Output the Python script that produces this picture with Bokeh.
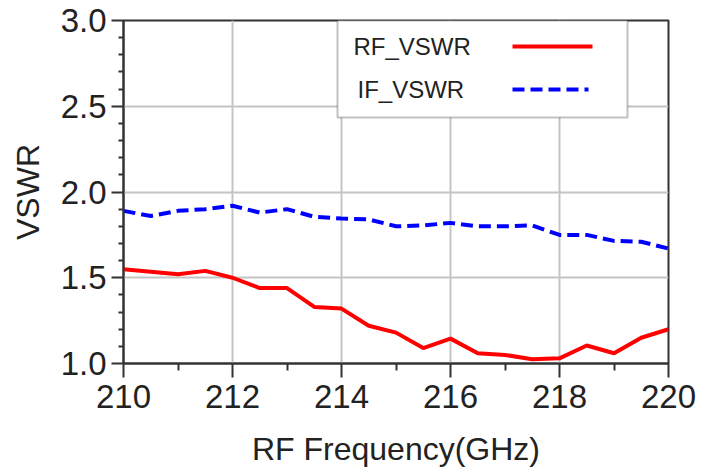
from bokeh.plotting import figure
from bokeh.models import (FixedTicker, PrintfTickFormatter, BoxAnnotation, Label,
                          Arrow, Range1d)
from bokeh.embed import file_html
from bokeh.resources import INLINE

# ---- data -------------------------------------------------------------
freq = [210.0, 210.5, 211.0, 211.5, 212.0, 212.5, 213.0, 213.5, 214.0, 214.5,
        215.0, 215.5, 216.0, 216.5, 217.0, 217.5, 218.0, 218.5, 219.0, 219.5, 220.0]
rf_vswr = [1.55, 1.535, 1.52, 1.54, 1.50, 1.44, 1.44, 1.33, 1.32, 1.22,
           1.18, 1.09, 1.145, 1.06, 1.05, 1.025, 1.03, 1.105, 1.06, 1.15, 1.20]
if_vswr = [1.89, 1.86, 1.89, 1.90, 1.92, 1.88, 1.90, 1.855, 1.845, 1.84,
           1.80, 1.805, 1.82, 1.80, 1.80, 1.805, 1.75, 1.75, 1.715, 1.71, 1.67]
x_ticks = [210, 212, 214, 216, 218, 220]
x_minor = [211, 213, 215, 217, 219]
y_ticks = [1.0, 1.5, 2.0, 2.5, 3.0]
y_minor = [1.1, 1.2, 1.3, 1.4, 1.6, 1.7, 1.8, 1.9, 2.1, 2.2, 2.3, 2.4, 2.6, 2.7, 2.8, 2.9]
series_names = ["RF_VSWR", "IF_VSWR"]

FONT = "Liberation Sans"
DARK = "#333333"

p = figure(width=704, height=470, output_backend="svg", toolbar_location=None,
           x_range=Range1d(210, 220), y_range=Range1d(1.0, 3.0),
           min_border_left=123, min_border_right=36, min_border_top=20,
           min_border_bottom=107)
p.background_fill_color = "white"
p.border_fill_color = "white"
p.outline_line_color = DARK
p.outline_line_width = 2

p.xaxis.ticker = FixedTicker(ticks=x_ticks, minor_ticks=x_minor)
p.yaxis.ticker = FixedTicker(ticks=y_ticks, minor_ticks=y_minor)
p.xaxis.formatter = PrintfTickFormatter(format="%d")
p.yaxis.formatter = PrintfTickFormatter(format="%.1f")

for ax in (p.xaxis[0], p.yaxis[0]):
    ax.axis_line_color = DARK
    ax.axis_line_width = 2
    ax.major_tick_line_color = DARK
    ax.major_tick_line_width = 2
    ax.minor_tick_line_color = DARK
    ax.minor_tick_line_width = 2
    ax.major_tick_in = 0
    ax.minor_tick_in = 0
    ax.major_label_text_font = FONT
    ax.major_label_text_font_size = "33px"
    ax.major_label_text_color = "#222222"
    ax.axis_label_text_font = FONT
    ax.axis_label_text_font_size = "32px"
    ax.axis_label_text_font_style = "normal"
    ax.axis_label_text_color = "#222222"

p.xaxis.major_tick_out = 14
p.xaxis.minor_tick_out = 7
p.yaxis.major_tick_out = 12
p.yaxis.minor_tick_out = 5
p.xaxis.major_label_standoff = 7
p.yaxis.major_label_standoff = 5
p.xaxis.axis_label = "RF Frequency(GHz)"
p.yaxis.axis_label = "VSWR"
p.xaxis.axis_label_standoff = 20
p.yaxis.axis_label_standoff = 12

p.grid.grid_line_color = "#c4c4c4"
p.grid.grid_line_width = 2

p.line(freq, rf_vswr, line_color="#ff0000", line_width=4)
p.line(freq, if_vswr, line_color="#0000ff", line_width=4, line_dash="12 6")

# ---- legend (text left, sample line right); screen units are frame-relative,
# ---- x from the frame's left edge, y upward from the frame's bottom edge
box = BoxAnnotation(left=214, right=504, top=343, bottom=246,
                    left_units="screen", right_units="screen",
                    top_units="screen", bottom_units="screen",
                    fill_color="white", fill_alpha=1.0,
                    line_color=DARK, line_width=2)
p.add_layout(box)
rows = [(series_names[0], 230, 317, 469, "#ff0000", None),
        (series_names[1], 234, 274, 465, "#0000ff", "12 6")]
for name, tx, ty, xe, col, dash in rows:
    p.add_layout(Label(x=tx, y=ty, x_units="screen", y_units="screen", text=name,
                       text_font=FONT, text_font_size="24px", text_color="#222222",
                       text_baseline="middle", text_align="left"))
    kw = dict(line_dash=dash) if dash else {}
    p.add_layout(Arrow(x_start=389, x_end=xe, y_start=ty, y_end=ty,
                       start_units="screen", end_units="screen",
                       start=None, end=None, line_color=col, line_width=4, **kw))

open("out.html", "w").write(file_html(p, INLINE))
